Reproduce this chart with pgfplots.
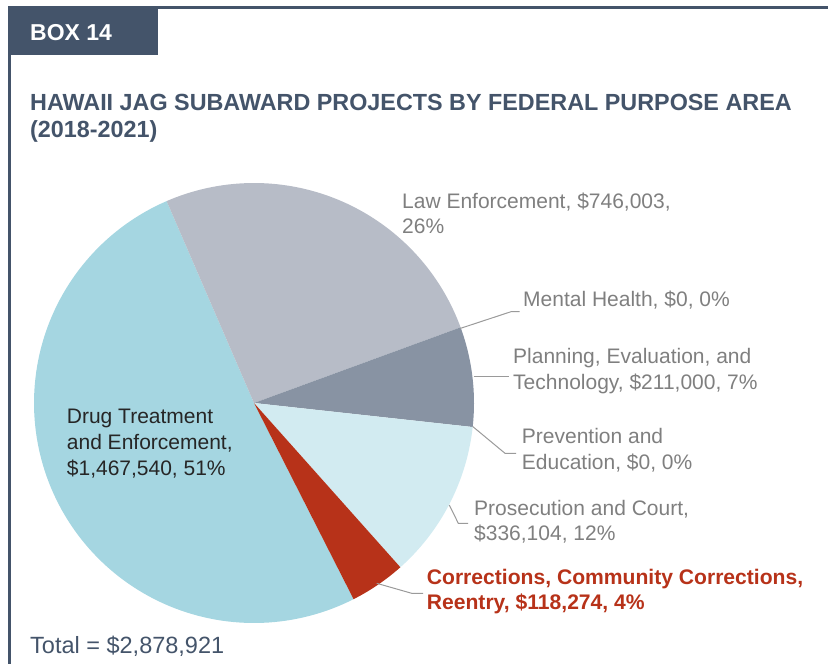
\documentclass[border=0pt]{standalone}
\usepackage{pgfplots}
\pgfplotsset{compat=1.18}
\usepackage{pgfplotstable}
\usepackage{fontspec}
\setmainfont{Liberation Sans}
\definecolor{navy}{HTML}{44546A}
\definecolor{cDR}{HTML}{A5D6E1}
\definecolor{cLE}{HTML}{B7BCC7}
\definecolor{cPL}{HTML}{8893A3}
\definecolor{cPR}{HTML}{D2EBF1}
\definecolor{cCO}{HTML}{B73219}
\definecolor{lblgrey}{HTML}{7F7F7F}
\definecolor{leadgrey}{HTML}{9A9A9A}
\definecolor{dark}{HTML}{262626}

\pgfplotstableread{
slice value
LawEnforcement 746003
MentalHealth 0
Planning 211000
Prevention 0
Prosecution 336104
Corrections 118274
Drug 1467540
}\piedata
\newcommand\getv[2]{\pgfplotstablegetelem{#1}{value}\of\piedata\global\let#2\pgfplotsretval}

\begin{document}
\begin{tikzpicture}
\useasboundingbox (0,0) rectangle (828bp,664bp);
\getv{0}\vLE \getv{1}\vMH \getv{2}\vPL \getv{3}\vPE \getv{4}\vPR \getv{5}\vCO \getv{6}\vDR
\edef\tot{\fpeval{\vLE+\vMH+\vPL+\vPE+\vPR+\vCO+\vDR}}
\edef\aA{113.4}
\edef\aB{\fpeval{round(\aA-360*\vLE/\tot,4)}}
\edef\aC{\fpeval{round(\aB-360*\vMH/\tot,4)}}
\edef\aD{\fpeval{round(\aC-360*\vPL/\tot,4)}}
\edef\aE{\fpeval{round(\aD-360*\vPE/\tot,4)}}
\edef\aF{\fpeval{round(\aE-360*\vPR/\tot,4)}}
\edef\aG{\fpeval{round(\aF-360*\vCO/\tot,4)}}
\edef\aH{\fpeval{round(\aG-360*\vDR/\tot,4)}}
\begin{axis}[at={(0,0)}, anchor=south west, scale only axis,
  width=828bp, height=664bp, xmin=0, xmax=828, ymin=0, ymax=664,
  y dir=reverse, hide axis, clip=false]
% frame
\fill[navy] (axis cs:8,6.3) rectangle (axis cs:158,55.3);
\draw[navy, line width=2.5bp] (axis cs:8,7.5) -- (axis cs:828,7.5);
\draw[navy, line width=2.6bp] (axis cs:9.3,6.3) -- (axis cs:9.3,664);
% pie
\addplot[draw=none, fill=cDR, domain=\aH:\aG, samples=120, variable=\t]
  ({254+220*cos(\t)},{403-220*sin(\t)}) -- (axis cs:254,403) -- cycle;
\addplot[draw=none, fill=cLE, domain=\aB:\aA, samples=80, variable=\t]
  ({254+220*cos(\t)},{403-220*sin(\t)}) -- (axis cs:254,403) -- cycle;
\addplot[draw=none, fill=cPL, domain=\aD:\aC, samples=40, variable=\t]
  ({254+220*cos(\t)},{403-220*sin(\t)}) -- (axis cs:254,403) -- cycle;
\addplot[draw=none, fill=cPR, domain=\aF:\aE, samples=50, variable=\t]
  ({254+220*cos(\t)},{403-220*sin(\t)}) -- (axis cs:254,403) -- cycle;
\addplot[draw=none, fill=cCO, domain=\aG:\aF, samples=30, variable=\t]
  ({254+220*cos(\t)},{403-220*sin(\t)}) -- (axis cs:254,403) -- cycle;
% leader lines
\draw[leadgrey, line width=1bp] (axis cs:460,328.5) -- (axis cs:511,311.7) -- (axis cs:519.5,311.7);
\draw[leadgrey, line width=1bp] (axis cs:473.5,376.7) -- (axis cs:509,376.7);
\draw[leadgrey, line width=1bp] (axis cs:472.7,426.5) -- (axis cs:505,453.3) -- (axis cs:516,453.3);
\draw[leadgrey, line width=1bp] (axis cs:449.3,505) -- (axis cs:458.3,523.3) -- (axis cs:468,523.3);
\draw[leadgrey, line width=1bp] (axis cs:376.7,583.3) -- (axis cs:411.7,593.3) -- (axis cs:423,593.3);
% texts
\tikzset{lbl/.style={anchor=base west, inner sep=0pt, font=\fontsize{21bp}{25bp}\selectfont, text=lblgrey}}
\node[anchor=base west, inner sep=0pt, text=white, font=\fontsize{23bp}{27bp}\selectfont\bfseries] at (axis cs:30,41) {BOX 14};
\node[anchor=base west, inner sep=0pt, text=navy, font=\fontsize{23.35bp}{27bp}\selectfont\bfseries] at (axis cs:30,110) {HAWAII JAG SUBAWARD PROJECTS BY FEDERAL PURPOSE AREA};
\node[anchor=base west, inner sep=0pt, text=navy, font=\fontsize{23.35bp}{27bp}\selectfont\bfseries] at (axis cs:30,137) {(2018-2021)};
\node[lbl] at (axis cs:402,208) {Law Enforcement, \$746,003,};
\node[lbl] at (axis cs:402,233) {26\%};
\node[lbl] at (axis cs:523,306.7) {Mental Health, \$0, 0\%};
\node[lbl] at (axis cs:513,363.3) {Planning, Evaluation, and};
\node[lbl] at (axis cs:513,389.3) {Technology, \$211,000, 7\%};
\node[lbl] at (axis cs:521.7,443.3) {Prevention and};
\node[lbl] at (axis cs:521.7,469.3) {Education, \$0, 0\%};
\node[lbl] at (axis cs:474,515) {Prosecution and Court,};
\node[lbl] at (axis cs:474,540) {\$336,104, 12\%};
\node[lbl, text=cCO, font=\fontsize{21.1bp}{25bp}\selectfont\bfseries] at (axis cs:426.7,584.3) {Corrections, Community Corrections,};
\node[lbl, text=cCO, font=\fontsize{21.1bp}{25bp}\selectfont\bfseries] at (axis cs:426.7,609.3) {Reentry, \$118,274, 4\%};
\node[lbl, text=dark] at (axis cs:66.7,423.3) {Drug Treatment};
\node[lbl, text=dark] at (axis cs:66.7,449.3) {and Enforcement,};
\node[lbl, text=dark] at (axis cs:66.7,475) {\$1,467,540, 51\%};
\node[anchor=base west, inner sep=0pt, text=navy, font=\fontsize{23.5bp}{27bp}\selectfont] at (axis cs:30,653) {Total = \$2,878,921};
\end{axis}
\end{tikzpicture}
\end{document}
